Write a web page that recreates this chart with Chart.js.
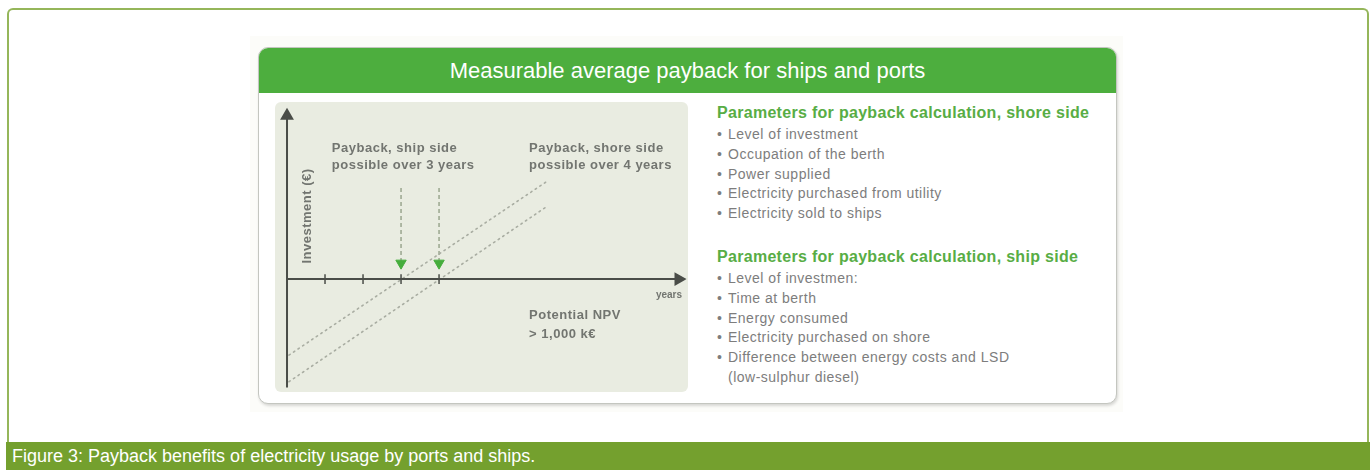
<!DOCTYPE html>
<html>
<head>
<meta charset="utf-8">
<script src="https://cdn.jsdelivr.net/npm/chart.js@4.4.1/dist/chart.umd.min.js"></script>
<style>
  body { margin: 0; width: 1370px; height: 470px; overflow: hidden; background: #fff; font-family: "Liberation Sans", Arial, sans-serif; }
  .frame { position: absolute; left: 7px; top: 8px; width: 1358px; height: 440px; border: 2px solid #95b65a; border-bottom: none; border-radius: 6px 6px 0 0; }
  .caption { position: absolute; left: 6px; top: 442px; width: 1364px; height: 28px; background: #74a02e; color: #fff;
             font-family: "Liberation Sans Narrow", "Liberation Sans", sans-serif; font-size: 18px; line-height: 28px; padding-left: 6px; box-sizing: border-box; }
  .fig { position: absolute; left: 250px; top: 36px; width: 873px; height: 376px; background: #fcfcf9; }
  .box { position: absolute; left: 258px; top: 47px; width: 857px; height: 355px; border: 1.5px solid #c4c6c0; border-radius: 10px;
         box-shadow: 1px 2px 3px rgba(0,0,0,0.15); background: #fff; overflow: hidden; }
  .head { height: 45px; background: #4dae3e; color: #fff; text-align: center; font-size: 22px; line-height: 46px; }
  #chart { position: absolute; left: 275px; top: 102px; background: #e9ece1; border-radius: 6px; }
  .params { position: absolute; left: 717px; color: #7d7d7d; font-size: 14px; letter-spacing: 0.5px; }
  .params h3 { margin: 0; color: #58ad45; font-size: 16px; letter-spacing: 0.3px; line-height: 20px; font-weight: bold; }
  .params ul { list-style: none; margin: 2px 0 0 0; padding: 0; }
  .params li { line-height: 19.8px; padding-left: 11px; text-indent: -11px; }
  .params li::before { content: "\2022"; display: inline-block; width: 11px; text-indent: 0; }
</style>
</head>
<body>
<div class="frame"></div>
<div class="fig"></div>
<div class="box"><div class="head">Measurable average payback for ships and ports</div></div>
<canvas id="chart" width="413" height="290"></canvas>
<div class="params" id="shore" style="top:103px"></div>
<div class="params" id="ship" style="top:247px"></div>
<div class="caption">Figure 3: Payback benefits of electricity usage by ports and ships.</div>

<script>
// values (x in years, y in investment units)
const yearTicks = [1, 2, 3, 4];
const axisXRange = [0, 10.3];
const axisYRange = [-2.85, 4.3];
const trendX = [0.05, 6.85];
const shipTrendY = [-2.0, 2.58];
const shoreTrendY = [-2.7, 1.92];
const paybackYears = [3, 4];
const arrowY = [2.4, 0.42];

const shoreTitle = "Parameters for payback calculation, shore side";
const shoreParams = ["Level of investment", "Occupation of the berth", "Power supplied",
  "Electricity purchased from utility", "Electricity sold to ships"];
const shipTitle = "Parameters for payback calculation, ship side";
const shipParams = ["Level of investmen:", "Time at berth", "Energy consumed",
  "Electricity purchased on shore", "Difference between energy costs and LSD (low-sulphur diesel)"];

const notes = [
  { text: "Payback, ship side", x: 1.18, y: 3.45 },
  { text: "possible over 3 years", x: 1.18, y: 2.99 },
  { text: "Payback, shore side", x: 6.37, y: 3.45 },
  { text: "possible over 4 years", x: 6.37, y: 2.99 },
  { text: "Potential NPV", x: 6.37, y: -0.95 },
  { text: "> 1,000 k€", x: 6.37, y: -1.45 }
];

function fillParams(id, title, items) {
  var el = document.getElementById(id);
  var h = document.createElement("h3");
  h.textContent = title;
  el.appendChild(h);
  var ul = document.createElement("ul");
  items.forEach(function (t) {
    var li = document.createElement("li");
    li.textContent = t;
    ul.appendChild(li);
  });
  el.appendChild(ul);
}
fillParams("shore", shoreTitle, shoreParams);
fillParams("ship", shipTitle, shipParams);
document.querySelector("#ship li:last-child").innerHTML = "Difference between energy costs and LSD<br>(low-sulphur diesel)";

const axisColor = "#4a4d48";
var datasets = [];

// axes with arrow heads
datasets.push({
  data: [{x: 0, y: axisYRange[0]}, {x: 0, y: axisYRange[1]}],
  borderColor: axisColor, borderWidth: 2, showLine: true,
  pointStyle: "triangle", pointRadius: [0, 6], rotation: 0,
  pointBackgroundColor: axisColor, pointBorderColor: axisColor
});
datasets.push({
  data: [{x: axisXRange[0], y: 0}, {x: axisXRange[1], y: 0}],
  borderColor: axisColor, borderWidth: 2, showLine: true,
  pointStyle: "triangle", pointRadius: [0, 6], rotation: 90,
  pointBackgroundColor: axisColor, pointBorderColor: axisColor
});
// year ticks
yearTicks.forEach(function (t) {
  datasets.push({
    data: [{x: t, y: -0.13}, {x: t, y: 0.13}],
    borderColor: axisColor, borderWidth: 1.5, showLine: true, pointRadius: 0
  });
});
// payback lines
[shipTrendY, shoreTrendY].forEach(function (ys) {
  datasets.push({
    data: trendX.map(function (x, i) { return {x: x, y: ys[i]}; }),
    borderColor: "#a9ada2", borderWidth: 1.6, borderDash: [1.5, 4], borderCapStyle: "round",
    showLine: true, pointRadius: 0
  });
});
// payback arrows
paybackYears.forEach(function (yr) {
  datasets.push({
    data: arrowY.map(function (y) { return {x: yr, y: y}; }),
    borderColor: "#9aa68f", borderWidth: 1.5, borderDash: [4, 3], showLine: true,
    pointStyle: "triangle", pointRadius: [0, 6], rotation: 180,
    pointBackgroundColor: "#45ad3c", pointBorderColor: "#45ad3c", pointBorderWidth: 1
  });
});

const notePlugin = {
  id: "notes",
  afterDatasetsDraw(chart) {
    const ctx = chart.ctx, xs = chart.scales.x, ys = chart.scales.y;
    ctx.save();
    ctx.fillStyle = "#727570";
    ctx.font = "bold 13px 'Liberation Sans', Arial, sans-serif";
    ctx.letterSpacing = "0.5px";
    ctx.textBaseline = "middle";
    notes.forEach(function (n) {
      ctx.fillText(n.text, xs.getPixelForValue(n.x), ys.getPixelForValue(n.y));
    });
    ctx.font = "bold 10px 'Liberation Sans', Arial, sans-serif";
    ctx.letterSpacing = "0px";
    ctx.textAlign = "center";
    ctx.fillText("years", xs.getPixelForValue(10.05), ys.getPixelForValue(-0.42));
    ctx.translate(xs.getPixelForValue(0.53), ys.getPixelForValue(1.66));
    ctx.rotate(-Math.PI / 2);
    ctx.font = "bold 13px 'Liberation Sans', Arial, sans-serif";
    ctx.letterSpacing = "0.5px";
    ctx.fillText("Investment (€)", 0, 0);
    ctx.restore();
  }
};

new Chart(document.getElementById("chart"), {
  type: "scatter",
  data: { datasets: datasets },
  options: {
    responsive: false,
    animation: false,
    layout: { padding: 0, autoPadding: false },
    plugins: { legend: { display: false }, tooltip: { enabled: false } },
    scales: {
      x: { type: "linear", min: -0.316, max: 10.55, display: false },
      y: { type: "linear", min: -2.97, max: 4.66, display: false }
    }
  },
  plugins: [notePlugin]
});
</script>
</body>
</html>
